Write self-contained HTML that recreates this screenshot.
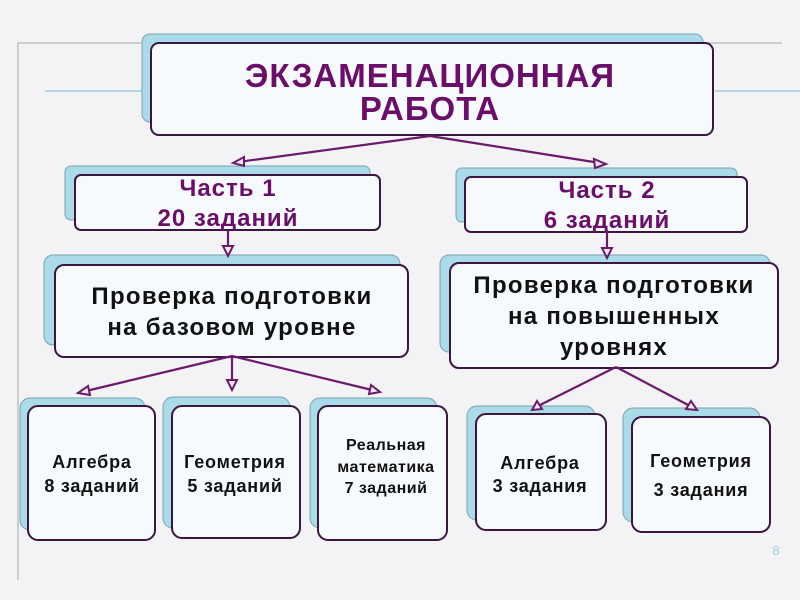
<!DOCTYPE html>
<html><head><meta charset="utf-8"><style>
html,body{margin:0;padding:0;background:#f3f3f5;}
svg{display:block}
text{font-family:"Liberation Sans",sans-serif;font-weight:bold;text-anchor:middle}
.b{fill:#a9dbe8;stroke:#7aa0b0;stroke-width:1}
.f{fill:#f7fafd;stroke:#3a1640;stroke-width:2}
.p{fill:#6a0e6a}
.k{fill:#111}
.a{stroke:#6b1a6b;stroke-width:2.2;fill:none}
.h{fill:#f0e8f0;stroke:#6b1a6b;stroke-width:2}
</style></head><body>
<svg width="800" height="600" viewBox="0 0 800 600">
<rect width="800" height="600" fill="#f3f3f5"/>
<path d="M18 580 V43 H150 M700 43 H782" stroke="#a8a8a8" stroke-width="1" fill="none"/>
<path d="M45 91 H145 M715 91 H800" stroke="#9fd0dc" stroke-width="1.5" fill="none"/>

<!-- title -->
<rect class="b" x="142" y="34" width="561" height="88" rx="8"/>
<rect class="f" x="151" y="43" width="562" height="92" rx="8"/>
<text class="p" x="430" y="87" font-size="33" letter-spacing="1">ЭКЗАМЕНАЦИОННАЯ</text>
<text class="p" x="430" y="120" font-size="33" letter-spacing="1">РАБОТА</text>

<!-- part1 -->
<rect class="b" x="65" y="166" width="305" height="54" rx="6"/>
<rect class="f" x="75" y="175" width="305" height="55" rx="6"/>
<text class="p" x="228" y="196" font-size="24" letter-spacing="1">Часть 1</text>
<text class="p" x="228" y="226" font-size="24" letter-spacing="1">20 заданий</text>

<!-- part2 -->
<rect class="b" x="456" y="168" width="281" height="54" rx="6"/>
<rect class="f" x="465" y="177" width="282" height="55" rx="6"/>
<text class="p" x="607" y="198" font-size="24" letter-spacing="1">Часть 2</text>
<text class="p" x="607" y="228" font-size="24" letter-spacing="1">6 заданий</text>

<!-- base -->
<rect class="b" x="44" y="255" width="356" height="90" rx="9"/>
<rect class="f" x="55" y="265" width="353" height="92" rx="9"/>
<text class="k" x="232" y="304" font-size="24" letter-spacing="1.3">Проверка подготовки</text>
<text class="k" x="232" y="335" font-size="24" letter-spacing="1.3">на базовом уровне</text>

<!-- upper -->
<rect class="b" x="440" y="255" width="330" height="97" rx="9"/>
<rect class="f" x="450" y="263" width="328" height="105" rx="9"/>
<text class="k" x="614" y="293" font-size="24" letter-spacing="1.3">Проверка подготовки</text>
<text class="k" x="614" y="324" font-size="24" letter-spacing="1.3">на повышенных</text>
<text class="k" x="614" y="355" font-size="24" letter-spacing="1.3">уровнях</text>

<!-- bottom -->
<rect class="b" x="20" y="398" width="125" height="132" rx="10"/>
<rect class="f" x="28" y="406" width="127" height="134" rx="10"/>
<text class="k" x="92" y="468" font-size="18" letter-spacing="0.8">Алгебра</text>
<text class="k" x="92" y="492" font-size="18" letter-spacing="0.8">8 заданий</text>

<rect class="b" x="163" y="397" width="127" height="131" rx="10"/>
<rect class="f" x="172" y="406" width="128" height="132" rx="10"/>
<text class="k" x="235" y="468" font-size="18" letter-spacing="0.8">Геометрия</text>
<text class="k" x="235" y="492" font-size="18" letter-spacing="0.8">5 заданий</text>

<rect class="b" x="310" y="398" width="127" height="130" rx="10"/>
<rect class="f" x="318" y="406" width="129" height="134" rx="10"/>
<text class="k" x="386" y="450" font-size="16" letter-spacing="0.5">Реальная</text>
<text class="k" x="386" y="472" font-size="16" letter-spacing="0.5">математика</text>
<text class="k" x="386" y="493" font-size="16" letter-spacing="0.5">7 заданий</text>

<rect class="b" x="467" y="406" width="128" height="114" rx="10"/>
<rect class="f" x="476" y="414" width="130" height="116" rx="10"/>
<text class="k" x="540" y="469" font-size="18" letter-spacing="0.8">Алгебра</text>
<text class="k" x="540" y="492" font-size="18" letter-spacing="0.8">3 задания</text>

<rect class="b" x="623" y="408" width="137" height="114" rx="10"/>
<rect class="f" x="632" y="417" width="138" height="115" rx="10"/>
<text class="k" x="701" y="467" font-size="18" letter-spacing="0.8">Геометрия</text>
<text class="k" x="701" y="496" font-size="18" letter-spacing="0.8">3 задания</text>

<!-- arrows -->
<path class="a" d="M430 136 L238 162 M430 136 L600 163 M228 230 V250 M607 230 V252 M232 356 L86 391 M232 356 V384 M232 356 L372 390 M616 367 L538 406 M616 367 L690 406"/>
<path class="h" d="M233 163 L244 157 L244 166 Z"/>
<path class="h" d="M606 164 L594 159 L595 168 Z"/>
<path class="h" d="M228 256 L223 246 L233 246 Z"/>
<path class="h" d="M607 258 L602 248 L612 248 Z"/>
<path class="h" d="M78 393 L88 386 L90 395 Z"/>
<path class="h" d="M232 390 L227 380 L237 380 Z"/>
<path class="h" d="M380 392 L369 394 L371 385 Z"/>
<path class="h" d="M532 410 L537 401 L542 409 Z"/>
<path class="h" d="M697 410 L686 409 L691 401 Z"/>

<text x="776" y="555" font-size="13" fill="#9fcfdc" style="font-weight:normal">8</text>
</svg>
</body></html>
